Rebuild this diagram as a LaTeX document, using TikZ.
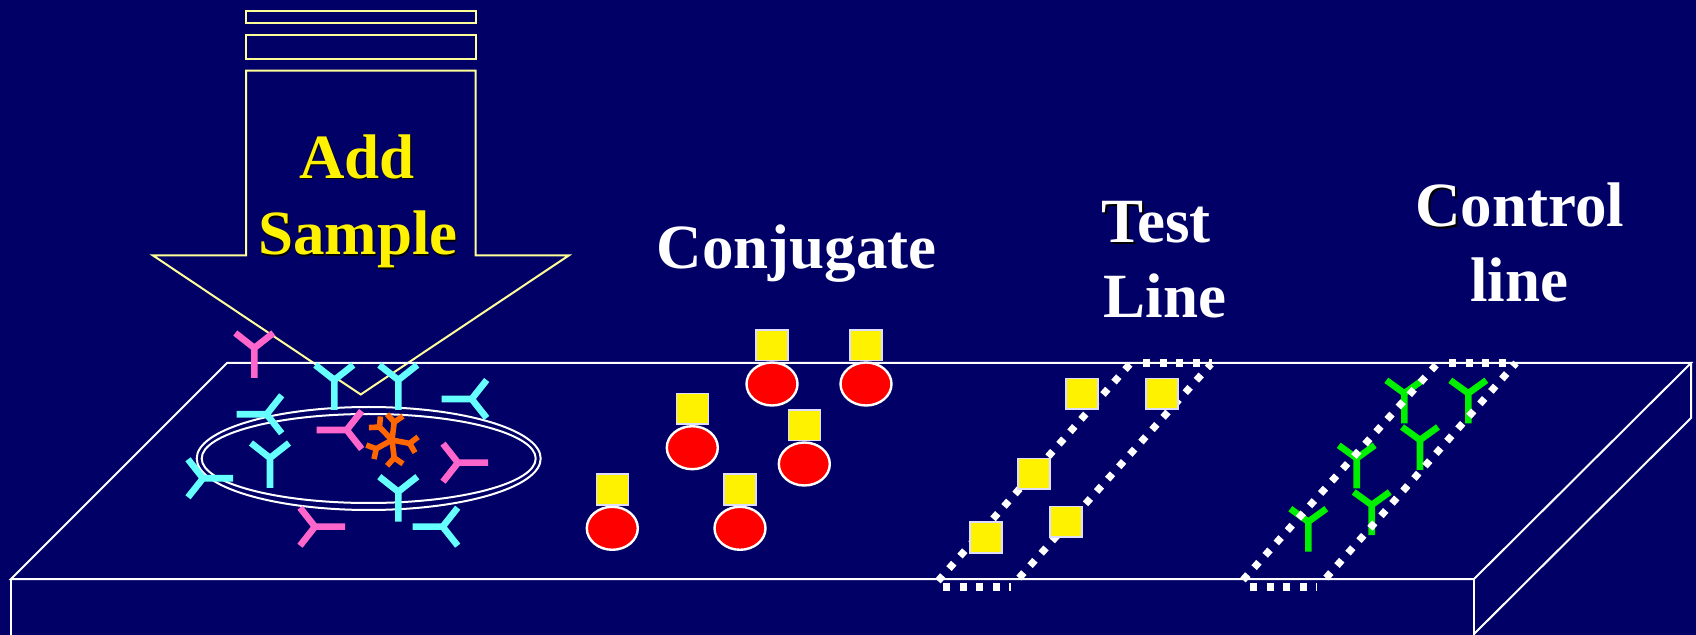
\documentclass[tikz,border=0pt]{standalone}
\usepackage{fontspec}
\setmainfont{Liberation Serif}
\definecolor{navy}{HTML}{000066}
\definecolor{abpink}{HTML}{FF66CC}
\definecolor{abcyan}{HTML}{66FFFF}
\definecolor{abgreen}{HTML}{00F000}
\definecolor{antigen}{HTML}{FF6600}
\definecolor{arrowline}{HTML}{FFFF99}
\definecolor{sqedge}{HTML}{DDDDFF}
\newcommand\shletter[1]{\makebox[0pt][l]{\kern1.1pt\raisebox{-1.1pt}{\color{black}#1}}#1}
\tikzset{
  label/.style={inner sep=0pt, anchor=base, text=white,
    font=\fontsize{31.5}{37}\selectfont\bfseries},
  slabline/.style={draw=white, line width=1pt},
  stripdots/.style={draw=white, line width=3.6pt, dash pattern=on 3.6pt off 4.7pt},
  abY/.pic={\draw[line width=3.3pt] (0,30) -- (0,0) (-19,-15) -- (0,0) -- (19,-15);},
  gabY/.pic={\draw[line width=3.3pt, abgreen] (0,30) -- (0,0) (-18,-13) -- (0,0) -- (18,-13);},
  conj/.pic={
    \filldraw[fill=red, draw=white, line width=1.2pt] (0,0) ellipse [x radius=25.5, y radius=21.5];
    \filldraw[fill=yellow, draw=sqedge, line width=0.8pt] (-16,-54) rectangle (16,-23.5);},
  ysq/.pic={\filldraw[fill=yellow, draw=sqedge, line width=0.8pt] (-16,-15.3) rectangle (16,15.3);}
}
\begin{document}
\begin{tikzpicture}[x=0.5pt, y=-0.5pt, line cap=butt]
\useasboundingbox (0,0) rectangle (1696,635);
\fill[navy] (0,0) rectangle (1696,635);

% pipette and arrow
\draw[arrowline, line width=1pt] (246,10.7) rectangle (475.7,23);
\draw[arrowline, line width=1pt] (246,34.7) rectangle (475.7,59);
\draw[arrowline, line width=1pt] (246,70.7) -- (475.7,70.7) -- (475.7,255.3) -- (569,255.3)
  -- (360.7,394.5) -- (152.7,255.3) -- (246,255.3) -- cycle;
\node[label, text=black] (addsh) at (358.2,179.5) {Add};
\node[label, text=black] (samplesh) at (359,256.2) {Sample};
\node[label, text=yellow] (add) at (357,178.3) {Add};
\node[label, text=yellow] (sample) at (357.8,255) {Sample};

% test strip
\draw[slabline] (11,579) -- (227,363) -- (1691,363) -- (1474,579) -- cycle;
\draw[slabline] (11,640) -- (11,579);
\draw[slabline] (1474,640) -- (1474,579);
\draw[slabline] (1474,634) -- (1691,418) -- (1691,363);

% sample pad
\draw[white, line width=1pt] (368.7,458.5) ellipse [x radius=172, y radius=51.5];
\draw[white, line width=1pt] (368.7,458.5) ellipse [x radius=167, y radius=44.5];

% antibodies in the sample
\pic[color=abpink] at (254.3,348) {abY};
\pic[color=abcyan] at (334.3,380) {abY};
\pic[color=abcyan] at (398.3,380) {abY};
\pic[color=abcyan, rotate=-90] at (471.7,399) {abY};
\pic[color=abcyan, rotate=-90] at (266.7,414.3) {abY};
\pic[color=abpink, rotate=-90] at (346.7,430) {abY};
\pic[color=abcyan] at (270,458) {abY};
\pic[color=abpink, rotate=90] at (458,462.7) {abY};
\pic[color=abcyan, rotate=90] at (203,478.3) {abY};
\pic[color=abcyan] at (398.3,491.7) {abY};
\pic[color=abpink, rotate=90] at (315,526.7) {abY};
\pic[color=abcyan, rotate=-90] at (442.7,526.7) {abY};

% antigen
\begin{scope}[shift={(392,440)}]
  \foreach \a in {83,134,209,277,349}
    \draw[antigen, line width=2.8pt, rotate=\a] (0,0) -- (18,0) (25,8) -- (18,0) -- (25,-8);
\end{scope}

% conjugate
\node[label] (conjugate) at (796.7,268.3) {Conjugate};
\pic at (772,384) {conj};
\pic at (866,384) {conj};
\pic at (692.3,447.7) {conj};
\pic at (804.3,464) {conj};
\pic at (612.3,528.3) {conj};
\pic at (740,528.3) {conj};

% test line
\node[label] (test) at (1156,242.7) {\shletter{T}est};
\node[label] (line) at (1165,317.3) {Line};
\draw[stripdots] (938,581) -- (1130,364);
\draw[stripdots] (1019,578) -- (1211,364);
\draw[stripdots] (943,587) -- (1011,587);
\draw[stripdots] (1143,363) -- (1212,363);
\pic at (1082,393.7) {ysq};
\pic at (1162,393.7) {ysq};
\pic at (1034,473.7) {ysq};
\pic at (1066,521.7) {ysq};
\pic at (986,537.5) {ysq};

% control line
\node[label] (control) at (1519.7,226.7) {\shletter{C}ontrol};
\node[label] (cline) at (1519,301.7) {line};
\pic at (1404.3,393.3) {gabY};
\pic at (1468.3,393.3) {gabY};
\pic at (1420,440) {gabY};
\pic at (1356.7,458.3) {gabY};
\pic at (1371.7,505) {gabY};
\pic at (1308.3,521.7) {gabY};
\draw[stripdots] (1243,580) -- (1436,365);
\draw[stripdots] (1326,578) -- (1516,363);
\draw[stripdots] (1250,587) -- (1317,587);
\draw[stripdots] (1449,363) -- (1515,363);
\end{tikzpicture}
\end{document}
